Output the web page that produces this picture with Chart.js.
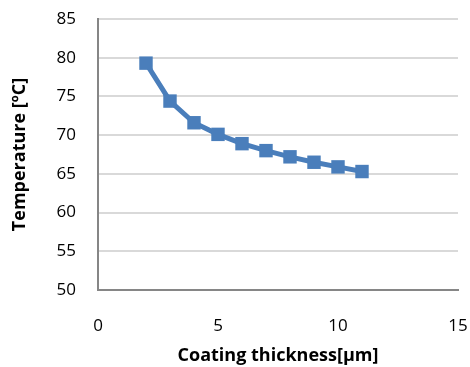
<!DOCTYPE html>
<html>
<head>
<meta charset="utf-8">
<script src="https://cdn.jsdelivr.net/npm/chart.js@4/dist/chart.umd.min.js"></script>
<style>
  html, body { margin: 0; padding: 0; background: #fff; }
  #wrap { width: 470px; height: 367px; }
</style>
</head>
<body>
<div id="wrap"><canvas id="c" width="470" height="367"></canvas></div>
<script>
// Coating thickness (µm) and resulting temperature (°C)
const thickness = [2, 3, 4, 5, 6, 7, 8, 9, 10, 11];
const temperature = [79.3, 74.4, 71.6, 70.1, 68.9, 68.0, 67.2, 66.5, 65.9, 65.3];

const xTitle = 'Coating thickness[µm]';
const yTitle = 'Temperature [ºC]';

const FONT = '"Open Sans", "Liberation Sans", sans-serif';
const BLUE = '#4a7ebb';

new Chart(document.getElementById('c'), {
  type: 'line',
  data: {
    datasets: [{
      data: thickness.map((x, i) => ({ x, y: temperature[i] })),
      borderColor: BLUE,
      backgroundColor: BLUE,
      borderWidth: 5,
      pointStyle: 'rect',
      pointRadius: 9.5,
      pointHoverRadius: 9.5,
      pointBorderWidth: 0,
      tension: 0,
      fill: false
    }]
  },
  options: {
    responsive: false,
    animation: false,
    devicePixelRatio: 1,
    layout: { padding: { top: 19, right: 12, left: 0, bottom: 0 } },
    plugins: { legend: { display: false }, tooltip: { enabled: false } },
    scales: {
      x: {
        type: 'linear',
        min: 0, max: 15,
        ticks: { stepSize: 5, padding: 26, color: '#000', font: { family: FONT, size: 17 } },
        grid: { display: false, drawTicks: false },
        border: { display: true, color: '#868686', width: 2 },
        title: { display: true, text: xTitle, color: '#000', padding: { top: 0, bottom: 0 },
                 font: { family: FONT, size: 18, weight: 'bold' } },
        // fixed axis band; layout padding alone sets the plot edges
        afterFit: s => { s.height = 77; s.paddingLeft = 0; s.paddingRight = 0; }
      },
      y: {
        min: 50, max: 85,
        ticks: { stepSize: 5, padding: 22, color: '#000', font: { family: FONT, size: 17 } },
        grid: { color: '#d9d9d9', lineWidth: 2, drawTicks: false },
        border: { display: true, color: '#868686', width: 2 },
        title: { display: true, text: yTitle, color: '#000', padding: { top: 9, bottom: 0 },
                 font: { family: FONT, size: 18, weight: 'bold' } },
        afterFit: s => { s.width = 98; s.paddingTop = 0; s.paddingBottom = 0; }
      }
    }
  }
});
</script>
</body>
</html>
